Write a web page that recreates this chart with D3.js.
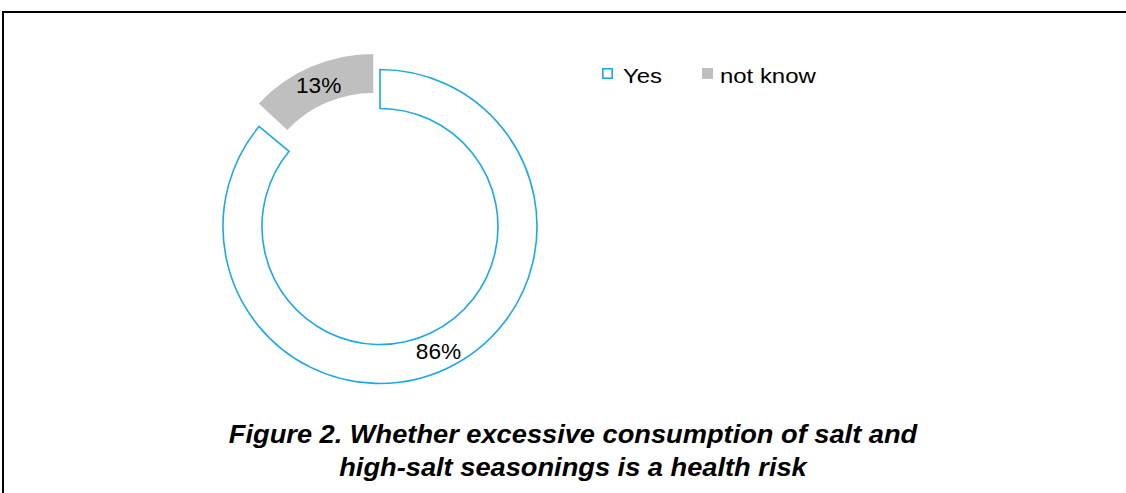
<!DOCTYPE html>
<html>
<head>
<meta charset="utf-8">
<script src="https://cdn.jsdelivr.net/npm/d3@7"></script>
<style>
  html, body { margin: 0; padding: 0; background: #fff; }
  svg { display: block; }
</style>
</head>
<body>
<svg id="chart" width="1126" height="493"></svg>
<script>
// Survey answers: share of respondents (%)
const categories = ["Yes", "No", "not know"];
const values = [86, 1, 13];
const legendCategories = ["Yes", "not know"];
const titleLines = [
  "Figure 2. Whether excessive consumption of salt and",
  "high-salt seasonings is a health risk"
];

const svg = d3.select("#chart");
const W = 1126, H = 493;
const FONT = "Liberation Sans, Arial, sans-serif";

// frame
svg.append("rect")
  .attr("x", 3).attr("y", 12)
  .attr("width", W + 10).attr("height", H + 10)
  .attr("fill", "none").attr("stroke", "#000").attr("stroke-width", 2);

const cx = 380, cy = 226.5, rOuter = 157, rInner = 118, explode = 17;

const fill = d3.scaleOrdinal().domain(categories).range(["#ffffff", "none", "#bfbfbf"]);
const stroke = d3.scaleOrdinal().domain(categories).range(["#1aa8e6", "none", "none"]);

const pie = d3.pie().sort(null).value(d => d.value);
const arcs = pie(categories.map((c, i) => ({ cat: c, value: values[i] })));
const arc = d3.arc().innerRadius(rInner).outerRadius(rOuter);

const g = svg.append("g").attr("transform", `translate(${cx},${cy})`);

// pull the "not know" slice out along its bisector
const offset = d => {
  if (d.data.cat !== "not know") return [0, 0];
  const a = (d.startAngle + d.endAngle) / 2;
  return [Math.sin(a) * explode, -Math.cos(a) * explode];
};

const slices = g.selectAll("g.slice").data(arcs).join("g")
  .attr("class", "slice")
  .attr("transform", d => `translate(${offset(d)})`);

slices.append("path")
  .attr("d", arc)
  .attr("fill", d => fill(d.data.cat))
  .attr("stroke", d => stroke(d.data.cat))
  .attr("stroke-width", 1.6);

slices.filter(d => d.data.cat !== "No").append("text")
  .attr("transform", d => `translate(${arc.centroid(d)}) scale(1.03,1)`)
  .attr("text-anchor", "middle")
  .attr("dy", "0.36em")
  .attr("font-family", FONT)
  .attr("font-size", 22)
  .attr("fill", "#000")
  .text(d => d.data.value + "%");

// legend
const legX = [602, 702];
const leg = svg.append("g").selectAll("g").data(legendCategories).join("g")
  .attr("transform", (d, i) => `translate(${legX[i]},68)`);
leg.append("rect")
  .attr("x", d => d === "Yes" ? 0.8 : 0).attr("y", d => d === "Yes" ? 0.8 : 0)
  .attr("width", d => d === "Yes" ? 9.4 : 11).attr("height", d => d === "Yes" ? 9.4 : 11)
  .attr("fill", d => d === "Yes" ? "#fff" : "#bfbfbf")
  .attr("stroke", d => stroke(d))
  .attr("stroke-width", 1.6);
leg.append("text")
  .attr("transform", d => `translate(${d === "Yes" ? 21 : 18},14.5) scale(1.14,1)`)
  .attr("font-family", FONT)
  .attr("font-size", 21)
  .attr("fill", "#000")
  .text(d => d);

// caption
svg.append("g").selectAll("text").data(titleLines).join("text")
  .attr("transform", (d, i) => `translate(573,${443 + i * 33}) scale(1.09,1)`)
  .attr("text-anchor", "middle")
  .attr("font-family", FONT)
  .attr("font-weight", "bold")
  .attr("font-style", "italic")
  .attr("font-size", 25)
  .attr("fill", "#000")
  .text(d => d);
</script>
</body>
</html>
